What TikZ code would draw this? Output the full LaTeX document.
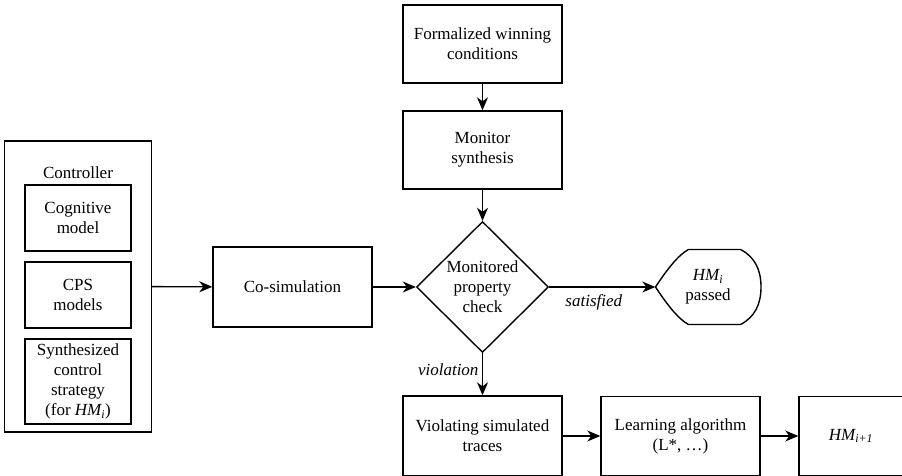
\documentclass[tikz,border=0pt]{standalone}
\usepackage{fontspec}
\setmainfont{Liberation Serif}
\usepackage{tikz}
\usetikzlibrary{shapes.geometric, arrows.meta}
\tikzstyle{box} = [rectangle, minimum width=159pt, minimum height=78pt, text centered, align=center, draw=black, line width=1.4pt]
\tikzstyle{part} = [rectangle, minimum width=106pt, minimum height=66pt, text centered, align=center, draw=black, line width=1.4pt]
\tikzstyle{decision} = [diamond, minimum width=132pt, minimum height=131pt, inner sep=0pt, text centered, align=center, draw=black, line width=1.4pt]
\tikzstyle{arrow} = [line width=1.4pt, -{Stealth[length=13pt, width=11pt, inset=4pt]}]
\tikzstyle{lbl} = [font=\fontsize{17pt}{20pt}\selectfont\itshape]
\newcommand{\hm}[1]{\textit{HM\textsubscript{#1}}}

\begin{document}
\begin{tikzpicture}[node distance=150pt, font=\fontsize{17pt}{20pt}\selectfont]
    \useasboundingbox (0,0) rectangle (902pt,-476pt);
    \node (formal) [box] at (482.5pt,-44pt) {Formalized winning\\conditions};
    \node (monitor) [box, below of=formal, yshift=44pt] {Monitor\\synthesis};
    \node (check) [decision, below of=monitor, yshift=13pt] {Monitored\\property\\check};
    \node (cosim) [box, left of=check, xshift=-40pt, minimum height=80pt] {Co-simulation};
    \node (ctrl) [rectangle, draw=black, line width=1.4pt, minimum width=147pt, minimum height=291pt, left of=cosim, xshift=-64.5pt, yshift=0.5pt] {};
    \node (ctrltitle) at (78pt,-173pt) {Controller};
    \node (cog) [part] at (78pt,-218pt) {Cognitive\\model};
    \node (cps) [part, below of=cog, yshift=73pt] {CPS\\models};
    \node (synth) [part, below of=cps, yshift=63.5pt, minimum height=85pt] {Synthesized\\control\\strategy\\(for \hm{i})};
    \node (passed) [right of=check, xshift=75.5pt, minimum width=105pt, minimum height=75pt, align=center] {\hm{i}\\passed};
    \draw [line width=1.4pt, shift={(passed.center)}, x=1pt, y=1pt] (-52.5,0) .. controls (-42,16) and (-30,32) .. (-19.5,37.5) -- (32.5,37.5) .. controls (47,30) and (53,17) .. (53,0) .. controls (53,-17) and (47,-30) .. (32.5,-37.5) -- (-19.5,-37.5) .. controls (-30,-32) and (-42,-16) .. cycle;
    \node (violating) [box, below of=check, yshift=1pt, minimum height=80pt] {Violating simulated\\traces};
    \node (learning) [box, right of=violating, xshift=48pt, minimum height=79pt] {Learning algorithm\\(L*, \ldots)};
    \node (next) [box, right of=learning, xshift=20.5pt, minimum width=104pt, minimum height=79pt] {\hm{i+1}};
    \draw [arrow] (formal) -- (monitor);
    \draw [arrow] (monitor) -- (check);
    \draw [arrow] (ctrl) -- (cosim);
    \draw [arrow] (cosim) -- (check);
    \draw [arrow] (check) -- node[lbl, below, pos=0.42, yshift=-3pt] {satisfied} (passed);
    \draw [arrow] (check) -- node[lbl, left, pos=0.4] {violation} (violating);
    \draw [arrow] (violating) -- (learning);
    \draw [arrow] (learning) -- (next);
\end{tikzpicture}
\end{document}
